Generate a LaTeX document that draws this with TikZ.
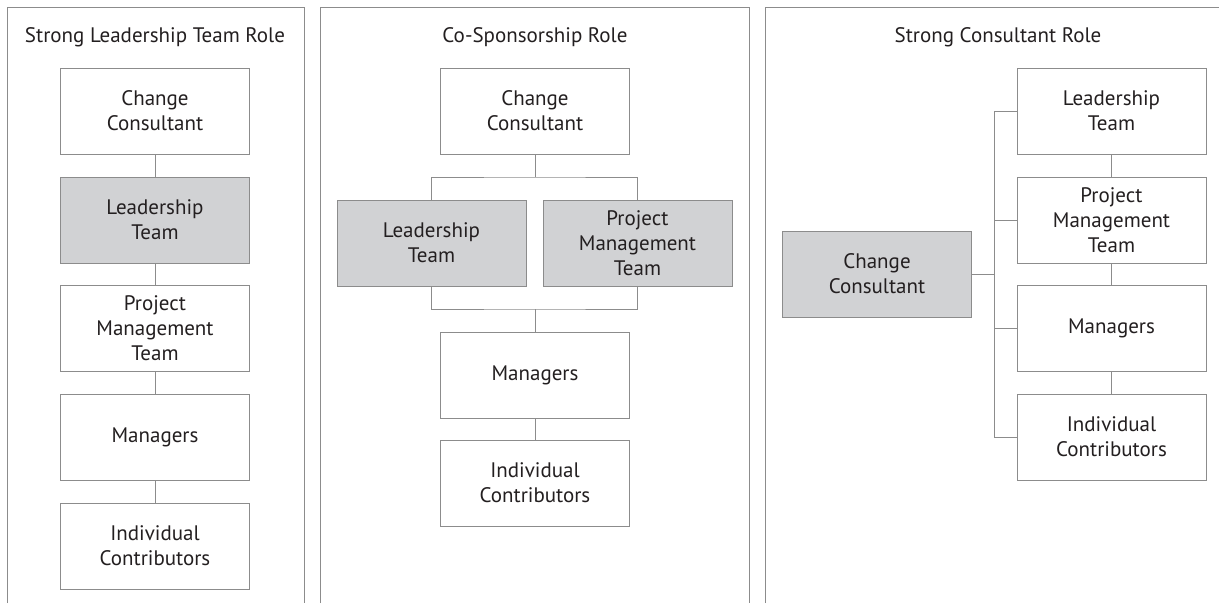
\documentclass[tikz,border=0pt]{standalone}
\usepackage{fontspec}
\setmainfont{PT Sans}
\usepackage{tikz}
\definecolor{framegray}{HTML}{8C8C8C}
\definecolor{boxfill}{HTML}{D1D2D4}
\definecolor{inkgray}{HTML}{231F20}
\tikzset{
	rolebox/.style={draw=framegray, line width=1pt, fill=white, text=inkgray, minimum width=189pt, minimum height=86pt, text width=180pt, align=center, font=\fontsize{21}{25}\selectfont, inner sep=0pt},
	keybox/.style={rolebox, fill=boxfill},
	roletitle/.style={text=inkgray, font=\fontsize{21}{25}\selectfont},
	link/.style={draw=framegray, line width=1pt}
}

\begin{document}
\begin{tikzpicture}[x=1pt, y=-1pt]
		%%%%% START %%%%%
		\useasboundingbox (0, 0) rectangle (1219, 603);
		
		\draw[link] (7, 603) |- (304, 7) -- (304, 603);
		\draw[link] (320, 603) |- (749, 7) -- (749, 603);
		\draw[link] (765, 603) |- (1219, 7);
		
		\node[roletitle] (ltitle) at (155, 37) {Strong Leadership Team Role};
		\node[roletitle] (ctitle) at (535, 37) {Co-Sponsorship Role};
		\node[roletitle] (rtitle) at (998, 37) {Strong Consultant Role};
		
		\node[rolebox] (lcc) at (155, 111) {Change\\Consultant};
		\node[keybox] (llt) at (155, 220) {Leadership\\Team};
		\node[rolebox] (lpm) at (155, 328.5) {Project\\Management\\Team};
		\node[rolebox] (lmg) at (155, 437) {Managers};
		\node[rolebox] (lic) at (155, 546) {Individual\\Contributors};
		\draw[link] (lcc) -- (llt);
		\draw[link] (llt) -- (lpm);
		\draw[link] (lpm) -- (lmg);
		\draw[link] (lmg) -- (lic);
		
		\node[rolebox] (ccc) at (535, 111) {Change\\Consultant};
		\node[keybox] (clt) at (431.5, 243) {Leadership\\Team};
		\node[keybox] (cpm) at (637.5, 243) {Project\\Management\\Team};
		\node[rolebox] (cmg) at (535, 375) {Managers};
		\node[rolebox] (cic) at (535, 483) {Individual\\Contributors};
		\coordinate (ctop) at (535, 177);
		\coordinate (cbot) at (535, 309);
		\draw[link] (ccc) -- (ctop);
		\draw[link] (clt.north) |- (ctop) -| (cpm.north);
		\draw[link] (clt.south) |- (cbot) -| (cpm.south);
		\draw[link] (cbot) -- (cmg);
		\draw[link] (cmg) -- (cic);
		
		\node[keybox] (rcc) at (877, 274) {Change\\Consultant};
		\node[rolebox] (rlt) at (1111.5, 111) {Leadership\\Team};
		\node[rolebox] (rpm) at (1111.5, 220) {Project\\Management\\Team};
		\node[rolebox] (rmg) at (1111.5, 328.5) {Managers};
		\node[rolebox] (ric) at (1111.5, 437) {Individual\\Contributors};
		\coordinate (rbus) at (994, 274);
		\draw[link] (rcc) -- (rbus);
		\draw[link] (rlt.west) -| (rbus);
		\draw[link] (ric.west) -| (rbus);
		\draw[link] (rpm.west) -- ++(-23, 0);
		\draw[link] (rmg.west) -- ++(-23, 0);
		\draw[link] (rlt) -- (rpm);
		\draw[link] (rpm) -- (rmg);
		\draw[link] (rmg) -- (ric);
		%%%%% END %%%%%
\end{tikzpicture}
\end{document}
